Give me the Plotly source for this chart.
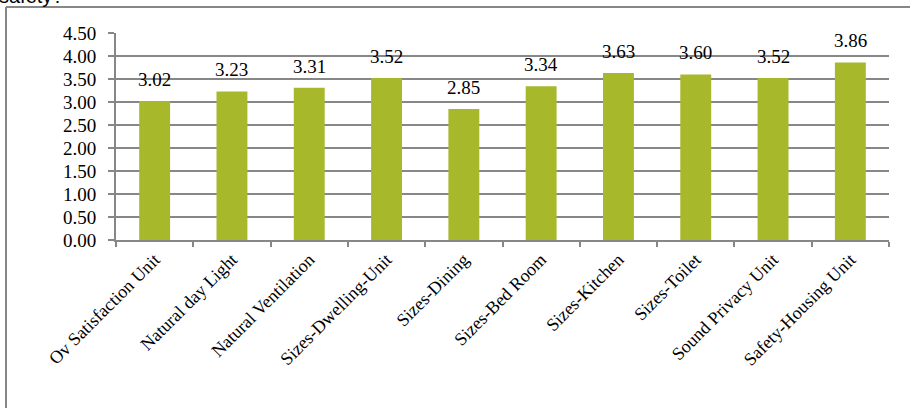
import plotly.graph_objects as go

categories = ["Ov Satisfaction Unit", "Natural day Light", "Natural Ventilation",
              "Sizes-Dwelling-Unit", "Sizes-Dining", "Sizes-Bed Room",
              "Sizes-Kitchen", "Sizes-Toilet", "Sound Privacy Unit",
              "Safety-Housing Unit"]
values = [3.02, 3.23, 3.31, 3.52, 2.85, 3.34, 3.63, 3.60, 3.52, 3.86]
value_labels = ["3.02", "3.23", "3.31", "3.52", "2.85", "3.34", "3.63", "3.60", "3.52", "3.86"]

SERIF = "Liberation Serif"
SANS = "Liberation Sans"
GREY = "#878787"

fig = go.Figure()
fig.add_trace(go.Bar(x=categories, y=values, marker=dict(color="#A7B82B", line=dict(width=0)),
                     width=0.4, hoverinfo="x+y"))

for c, v, t in zip(categories, values, value_labels):
    fig.add_annotation(x=c, y=v, text=t, showarrow=False, xref="x", yref="y",
                       yanchor="bottom", yshift=9,
                       font=dict(family=SERIF, size=19, color="#000000"))

W, H = 910, 408
L, R, T, B = 116, 21, 33, 168
pw, ph = W - L - R, H - T - B
def px(xp):
    return (xp - L) / pw
def py(yp):
    return (H - B - yp) / ph

# top caption (cut off at page top)
fig.add_annotation(x=px(-3), y=py(9), xref="paper", yref="paper", xanchor="left", yanchor="bottom",
                   text="safety?", showarrow=False,
                   font=dict(family=SANS, size=20, color="#000000"))

# outer frame (left and top edges visible)
fig.add_shape(type="line", xref="paper", yref="paper", x0=px(6), x1=px(6), y0=py(7), y1=py(420),
              line=dict(color=GREY, width=2))
fig.add_shape(type="line", xref="paper", yref="paper", x0=px(6), x1=px(920), y0=py(7), y1=py(7),
              line=dict(color=GREY, width=2))

fig.update_layout(
    width=W, height=H,
    margin=dict(l=L, r=R, t=T, b=B, pad=0),
    paper_bgcolor="white", plot_bgcolor="white",
    showlegend=False,
    bargap=0.6,
    font=dict(family=SERIF, size=18, color="#000000"),
)
fig.update_xaxes(
    type="category", range=[-0.5, 9.5], tickangle=-45, tickson="boundaries",
    ticks="outside", ticklen=5, tickcolor=GREY, tickwidth=2,
    showline=True, linecolor=GREY, linewidth=2, showgrid=False,
    tickfont=dict(family=SERIF, size=18, color="#000000"),
)
fig.update_yaxes(
    range=[0, 4.5], dtick=0.5, tickformat=".2f",
    ticks="outside", ticklen=6, tickcolor=GREY, tickwidth=2,
    showline=True, linecolor=GREY, linewidth=2,
    showgrid=True, gridcolor=GREY, gridwidth=1.5, zeroline=False,
    ticklabelstandoff=8,
    tickfont=dict(family=SERIF, size=19, color="#000000"),
)

fig.write_html("out.html")
